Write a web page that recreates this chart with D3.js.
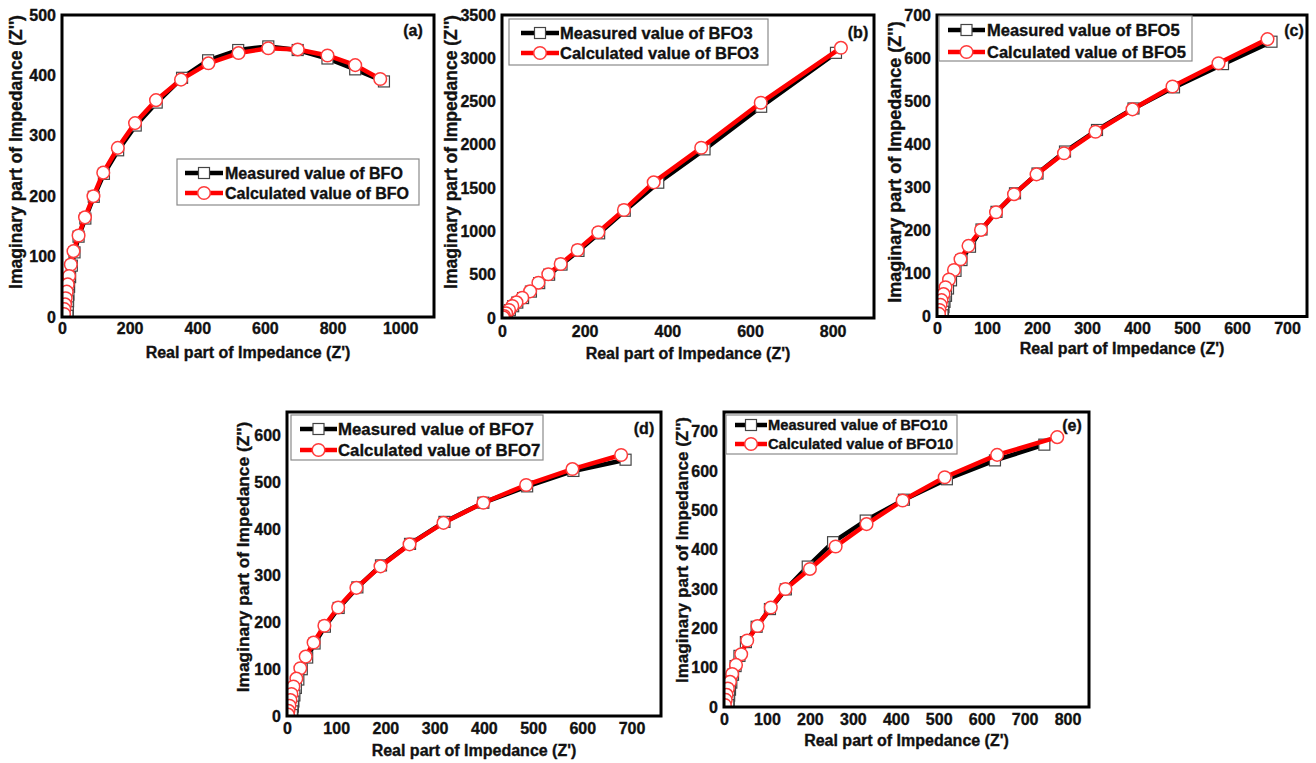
<!DOCTYPE html>
<html><head><meta charset="utf-8">
<script src="https://cdn.jsdelivr.net/npm/d3@7"></script>
<style>
body{margin:0;background:#fff;}
svg{display:block;}
text{font-family:"Liberation Sans",Arial,Helvetica,sans-serif;font-weight:bold;fill:#111;stroke:#111;stroke-width:0.35px;}
</style>
</head><body>
<svg id="chart" width="1316" height="763"></svg>
<script>
// ---------- DATA (Z', Z'') ----------
const measuredBFO = [[952,390],[867,410],[785,428],[697,442],[610,448],[521,442],[432,425],[355,396],[280,355],[218,317],[166,276],[124,237],[94,199],[69,163],[49,133],[37,107],[29,85],[24,66],[21,50],[19,37],[18,26],[17,16],[17,8],[16,2]];
const calculatedBFO = [[941,394],[867,417],[785,433],[697,443],[610,445],[522,437],[433,420],[352,393],[278,359],[216,321],[165,280],[122,239],[93,200],[68,165],[49,135],[34,109],[26,87],[21,68],[17,54],[14,42],[11,31],[9,21],[7,13],[6,5]];

const measuredBFO3 = [[808,3063],[627,2440],[490,1948],[378,1563],[297,1239],[235,978],[185,775],[144,617],[114,500],[90,403],[70,305],[51,230],[37,178],[27,136],[19,90],[12,52],[7,22],[4,8]];
const calculatedBFO3 = [[820,3121],[626,2486],[482,1967],[367,1567],[295,1247],[233,990],[183,785],[142,624],[112,505],[88,408],[68,308],[49,234],[35,181],[25,139],[17,92],[10,54],[5,23],[3,8]];

const measuredBFO5 = [[669,638],[572,586],[474,532],[393,483],[320,433],[256,383],[201,332],[156,286],[119,243],[89,202],[66,162],[49,131],[37,106],[28,84],[22,65],[18,48],[15,34],[13,22],[12,11],[11,3]];
const calculatedBFO5 = [[661,644],[563,588],[471,534],[391,481],[317,429],[254,379],[199,330],[154,284],[118,242],[88,201],[63,164],[47,133],[34,108],[24,86],[17,68],[13,52],[9,38],[7,27],[5,15],[4,6]];

const measuredBFO7 = [[688,548],[582,524],[488,491],[399,456],[320,415],[250,368],[191,322],[143,275],[105,231],[77,191],[56,155],[41,125],[30,100],[23,78],[18,60],[15,44],[13,31],[12,20],[11,10],[10,2]];
const calculatedBFO7 = [[679,558],[580,528],[486,494],[399,456],[318,413],[249,367],[190,320],[141,274],[104,232],[76,193],[54,157],[38,127],[27,102],[19,80],[13,63],[9,47],[7,34],[5,22],[3,11],[2,3]];

const measuredBFO10 = [[746,667],[631,627],[519,579],[419,527],[330,474],[254,419],[195,357],[144,299],[107,249],[76,204],[51,165],[36,130],[27,104],[21,82],[17,62],[14,44],[12,29],[11,16],[10,5]];
const calculatedBFO10 = [[776,686],[636,641],[514,584],[416,525],[332,465],[260,408],[200,351],[143,300],[109,253],[78,206],[54,169],[40,134],[28,107],[19,84],[14,64],[9,47],[6,31],[4,18],[2,5]];

const sampleNames = ["BFO","BFO3","BFO5","BFO7","BFO10"];
const panelLabels = ["(a)","(b)","(c)","(d)","(e)"];
const xTicksA = [0,200,400,600,800,1000];
const yTicksA = [0,100,200,300,400,500];
const xTicksB = [0,200,400,600,800];
const yTicksB = [0,500,1000,1500,2000,2500,3000,3500];
const xTicksC = [0,100,200,300,400,500,600,700];
const yTicksC = [0,100,200,300,400,500,600,700];
const xTicksD = [0,100,200,300,400,500,600,700];
const yTicksD = [0,100,200,300,400,500,600];
const xTicksE = [0,100,200,300,400,500,600,700,800];
const yTicksE = [0,100,200,300,400,500,600,700];
const xTitle = "Real part of Impedance (Z')";
const yTitle = "Imaginary part of Impedance (Z'')";
const measuredPrefix = "Measured value of ";
const calculatedPrefix = "Calculated value of ";

// ---------- LAYOUT ----------
const panels = [
  {meas:measuredBFO, calc:calculatedBFO, xDomain:[0,1100], yDomain:[0,500], xTicks:xTicksA, yTicks:yTicksA,
   xr:[62,434], yr:[317,15], xPad:6, xTitleY:352, yTitleX:16, yTitleY:152, yFs:17.5,
   leg:{x0:177,y0:159,x1:419,y1:205,r1:173,r2:193,l0:185,l1:223,tx:225,fs:16}, lab:[413,30]},
  {meas:measuredBFO3, calc:calculatedBFO3, xDomain:[0,900], yDomain:[0,3500], xTicks:xTicksB, yTicks:yTicksB,
   xr:[502,874], yr:[318,15], xPad:8, xTitleY:353, yTitleX:451, yTitleY:152, yFs:17.5,
   leg:{x0:509,y0:19,x1:768,y1:65,r1:33,r2:53,l0:521,l1:559,tx:560,fs:16.5}, lab:[858,32]},
  {meas:measuredBFO5, calc:calculatedBFO5, xDomain:[0,740], yDomain:[0,700], xTicks:xTicksC, yTicks:yTicksC,
   xr:[937,1307], yr:[316.5,15], xPad:6, xTitleY:348, yTitleX:895, yTitleY:162, yFs:18,
   leg:{x0:939,y0:16,x1:1192,y1:61,r1:30,r2:52,l0:948,l1:985,tx:987,fs:16.5}, lab:[1294,30]},
  {meas:measuredBFO7, calc:calculatedBFO7, xDomain:[0,760], yDomain:[0,650], xTicks:xTicksD, yTicks:yTicksD,
   xr:[287,661], yr:[716,412], xPad:7, xTitleY:750, yTitleX:243, yTitleY:557, yFs:17.3,
   leg:{x0:291,y0:415,x1:543,y1:460,r1:429,r2:450,l0:300,l1:337,tx:338,fs:16.8}, lab:[644,428]},
  {meas:measuredBFO10, calc:calculatedBFO10, xDomain:[0,850], yDomain:[0,750], xTicks:xTicksE, yTicks:yTicksE,
   xr:[724,1089], yr:[707,412], xPad:7, xTitleY:740, yTitleX:682, yTitleY:550, yFs:17,
   leg:{x0:726,y0:415,x1:957,y1:454,r1:425,r2:444,l0:735,l1:767,tx:768,fs:14.7}, lab:[1072,425]}
];

const svg = d3.select("#chart");
const BLACK = "#000", RED = "#ff0000";

function square(g, x, y){
  g.append("rect").attr("x",x-5.5).attr("y",y-5.5).attr("width",11).attr("height",11)
   .attr("fill","#fff").attr("stroke","#444").attr("stroke-width",1.2);
}
function circle(g, x, y){
  g.append("circle").attr("cx",x).attr("cy",y).attr("r",6.3)
   .attr("fill","#fff").attr("stroke","#ff3b3b").attr("stroke-width",1.5);
}

panels.forEach((p,i)=>{
  const g = svg.append("g");
  const x = d3.scaleLinear().domain(p.xDomain).range(p.xr);
  const y = d3.scaleLinear().domain(p.yDomain).range(p.yr);

  const gx = g.append("g").attr("transform",`translate(0,${p.yr[0]})`)
    .call(d3.axisBottom(x).tickValues(p.xTicks).tickSize(0).tickPadding(p.xPad).tickFormat(d3.format("d")));
  const gy = g.append("g").attr("transform",`translate(${p.xr[0]},0)`)
    .call(d3.axisLeft(y).tickValues(p.yTicks).tickSize(0).tickPadding(6).tickFormat(d3.format("d")));
  [gx,gy].forEach(a=>{
    a.select(".domain").remove();
    a.selectAll("text").attr("font-size",16).attr("font-family",null).style("font-weight","bold").attr("fill","#111");
  });

  const line = d3.line().x(d=>x(d[0])).y(d=>y(d[1]));
  const clip = "clip"+i;
  g.append("clipPath").attr("id",clip).append("rect")
    .attr("x",p.xr[0]).attr("y",p.yr[1]).attr("width",p.xr[1]-p.xr[0]).attr("height",p.yr[0]-p.yr[1]);
  const plot = g.append("g").attr("clip-path",`url(#${clip})`);

  plot.append("path").datum(p.meas).attr("d",line).attr("fill","none")
    .attr("stroke",BLACK).attr("stroke-width",4.5).attr("stroke-linejoin","round");
  p.meas.forEach(d=>square(plot, x(d[0]), y(d[1])));
  plot.append("path").datum(p.calc).attr("d",line).attr("fill","none")
    .attr("stroke",RED).attr("stroke-width",4.5).attr("stroke-linejoin","round");
  p.calc.forEach(d=>circle(plot, x(d[0]), y(d[1])));

  g.append("rect").attr("x",p.xr[0]).attr("y",p.yr[1]).attr("width",p.xr[1]-p.xr[0]).attr("height",p.yr[0]-p.yr[1])
    .attr("fill","none").attr("stroke","#000").attr("stroke-width",3);

  g.append("text").attr("x",(p.xr[0]+p.xr[1])/2).attr("y",p.xTitleY).attr("text-anchor","middle")
    .attr("dominant-baseline","central").attr("font-size",16).text(xTitle);
  g.append("text").attr("transform",`translate(${p.yTitleX},${p.yTitleY}) rotate(-90)`).attr("text-anchor","middle")
    .attr("dominant-baseline","central").attr("font-size",p.yFs).text(yTitle);

  g.append("text").attr("x",p.lab[0]).attr("y",p.lab[1]).attr("text-anchor","middle")
    .attr("dominant-baseline","central").attr("font-size",16).text(panelLabels[i]);

  const L = p.leg;
  const lg = g.append("g");
  lg.append("rect").attr("x",L.x0).attr("y",L.y0).attr("width",L.x1-L.x0).attr("height",L.y1-L.y0)
    .attr("fill","#fff").attr("stroke","#8a8a8a").attr("stroke-width",1.2);
  const mid = (L.l0+L.l1)/2;
  lg.append("line").attr("x1",L.l0).attr("x2",L.l1).attr("y1",L.r1).attr("y2",L.r1).attr("stroke",BLACK).attr("stroke-width",4.5);
  square(lg, mid, L.r1);
  lg.append("line").attr("x1",L.l0).attr("x2",L.l1).attr("y1",L.r2).attr("y2",L.r2).attr("stroke",RED).attr("stroke-width",4.5);
  circle(lg, mid, L.r2);
  lg.append("text").attr("x",L.tx).attr("y",L.r1).attr("dominant-baseline","central").attr("font-size",L.fs)
    .text(measuredPrefix+sampleNames[i]);
  lg.append("text").attr("x",L.tx).attr("y",L.r2).attr("dominant-baseline","central").attr("font-size",L.fs)
    .text(calculatedPrefix+sampleNames[i]);
});
</script>
</body></html>
